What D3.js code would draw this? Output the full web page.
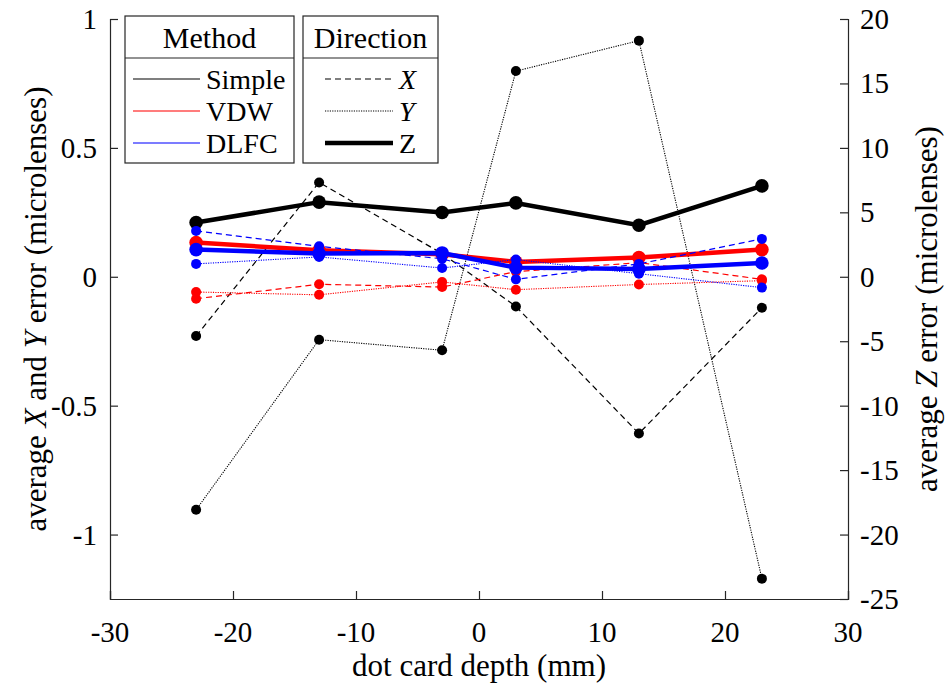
<!DOCTYPE html>
<html>
<head>
<meta charset="utf-8">
<script src="https://cdn.jsdelivr.net/npm/d3@7"></script>
<style>
  body { margin: 0; background: #fff; }
  svg text { font-family: "Liberation Serif", "Times New Roman", serif; fill: #000; }
</style>
</head>
<body>
<div id="chart"></div>
<script>
// data
var depth = [-23, -13, -3, 3, 13, 23];

var simpleX = [-0.23, 0.366, 0.09, -0.115, -0.608, -0.12];
var simpleY = [-0.904, -0.244, -0.285, 0.798, 0.916, -1.171];
var simpleZ = [4.21, 5.79, 4.99, 5.73, 4.0, 7.05];

var vdwX = [-0.085, -0.029, -0.04, 0.02, 0.055, -0.01];
var vdwY = [-0.059, -0.07, -0.02, -0.05, -0.03, -0.015];
var vdwZ = [2.66, 2.06, 1.75, 1.15, 1.49, 2.11];

var dlfcX = [0.178, 0.118, 0.07, -0.01, 0.05, 0.147];
var dlfcY = [0.05, 0.077, 0.034, 0.067, 0.012, -0.042];
var dlfcZ = [2.11, 1.8, 1.85, 0.71, 0.61, 1.07];

var xTicks = [-30, -20, -10, 0, 10, 20, 30];
var leftTicks = [-1, -0.5, 0, 0.5, 1];
var rightTicks = [-25, -20, -15, -10, -5, 0, 5, 10, 15, 20];

var methods = ["Simple", "VDW", "DLFC"];
var methodColors = ["#000000", "#ff0000", "#0000ff"];
var directions = ["X", "Y", "Z"];

// layout
var W = 948, H = 688;
var plot = {left: 110, right: 848, top: 19, bottom: 599};
var axisColor = "#262626";

var x = d3.scaleLinear().domain([-30, 30]).range([plot.left, plot.right]);
var yL = d3.scaleLinear().domain([-1.25, 1]).range([plot.bottom, plot.top]);
var yR = d3.scaleLinear().domain([-25, 20]).range([plot.bottom, plot.top]);

var svg = d3.select("#chart").append("svg")
   .attr("width", W).attr("height", H);

// axes, ticks inward
var fmt = function(d){ return String(d); };
var gx = svg.append("g").attr("transform", "translate(0," + plot.bottom + ")")
   .call(d3.axisTop(x).tickValues(xTicks).tickSize(8).tickFormat(""));
var gl = svg.append("g").attr("transform", "translate(" + plot.left + ",0)")
   .call(d3.axisRight(yL).tickValues(leftTicks).tickSize(8).tickFormat(""));
var gr = svg.append("g").attr("transform", "translate(" + plot.right + ",0)")
   .call(d3.axisLeft(yR).tickValues(rightTicks).tickSize(8).tickFormat(""));
[gx, gl, gr].forEach(function(g){
   g.select(".domain").attr("stroke", axisColor).attr("stroke-width", 1.2);
   g.selectAll(".tick line").attr("stroke", axisColor).attr("stroke-width", 1.2);
});

// tick labels
svg.append("g").selectAll("text").data(xTicks).enter().append("text")
   .attr("x", function(d){ return x(d); }).attr("y", plot.bottom + 43)
   .attr("text-anchor", "middle").style("font-size", "29px").text(fmt);
svg.append("g").selectAll("text").data(leftTicks).enter().append("text")
   .attr("x", plot.left - 13).attr("y", function(d){ return yL(d) + 10; })
   .attr("text-anchor", "end").style("font-size", "29px").text(fmt);
svg.append("g").selectAll("text").data(rightTicks).enter().append("text")
   .attr("x", plot.right + 12).attr("y", function(d){ return yR(d) + 10; })
   .attr("text-anchor", "start").style("font-size", "29px").text(fmt);

// axis labels
svg.append("text")
   .attr("x", (plot.left + plot.right) / 2).attr("y", 676)
   .attr("text-anchor", "middle").style("font-size", "31px")
   .text("dot card depth (mm)");

var ll = svg.append("text")
   .attr("transform", "translate(46," + ((plot.top + plot.bottom) / 2) + ") rotate(-90)")
   .attr("text-anchor", "middle").style("font-size", "31px");
ll.append("tspan").text("average ");
ll.append("tspan").style("font-style", "italic").text("X");
ll.append("tspan").text(" and ");
ll.append("tspan").style("font-style", "italic").text("Y");
ll.append("tspan").text(" error (microlenses)");

var rl = svg.append("text")
   .attr("transform", "translate(937," + ((plot.top + plot.bottom) / 2) + ") rotate(-90)")
   .attr("text-anchor", "middle").style("font-size", "31px");
rl.append("tspan").text("average ");
rl.append("tspan").style("font-style", "italic").text("Z");
rl.append("tspan").text(" error (microlenses)");

// series
var series = [
   {vals: simpleX, dir: "X", color: methodColors[0]},
   {vals: simpleY, dir: "Y", color: methodColors[0]},
   {vals: simpleZ, dir: "Z", color: methodColors[0]},
   {vals: vdwX, dir: "X", color: methodColors[1]},
   {vals: vdwY, dir: "Y", color: methodColors[1]},
   {vals: vdwZ, dir: "Z", color: methodColors[1]},
   {vals: dlfcX, dir: "X", color: methodColors[2]},
   {vals: dlfcY, dir: "Y", color: methodColors[2]},
   {vals: dlfcZ, dir: "Z", color: methodColors[2]}
];
var dash = {X: "6,4", Y: "1.2,1.2", Z: null};
var width = {X: 1.2, Y: 1.1, Z: 4.5};
var radius = {X: 5, Y: 5, Z: 6.8};

var gData = svg.append("g");
series.forEach(function(s){
   var ys = s.dir == "Z" ? yR : yL;
   var pts = depth.map(function(d, i){ return [d, s.vals[i]]; });
   var line = d3.line().x(function(p){ return x(p[0]); }).y(function(p){ return ys(p[1]); });
   gData.append("path").datum(pts)
      .attr("d", line)
      .attr("fill", "none")
      .attr("stroke", s.color)
      .attr("stroke-width", width[s.dir])
      .attr("stroke-dasharray", dash[s.dir]);
   gData.selectAll(null).data(pts).enter().append("circle")
      .attr("cx", function(p){ return x(p[0]); })
      .attr("cy", function(p){ return ys(p[1]); })
      .attr("r", radius[s.dir])
      .attr("fill", s.color);
});

// legends
function legendBox(x0, x1, title, rows) {
   var g = svg.append("g");
   g.append("rect").attr("x", x0).attr("y", 16).attr("width", x1 - x0).attr("height", 147)
      .attr("fill", "#fff").attr("stroke", axisColor).attr("stroke-width", 1.2);
   g.append("line").attr("x1", x0).attr("x2", x1).attr("y1", 58).attr("y2", 58)
      .attr("stroke", axisColor).attr("stroke-width", 1.2);
   g.append("text").attr("x", (x0 + x1) / 2).attr("y", 48)
      .attr("text-anchor", "middle").style("font-size", "30px").text(title);
   rows.forEach(function(r, i){
      var yy = 79 + i * 32;
      g.append("line").attr("x1", r.lx0).attr("x2", r.lx1).attr("y1", yy).attr("y2", yy)
         .attr("stroke", r.color).attr("stroke-width", r.width)
         .attr("stroke-dasharray", r.dash);
      g.append("text").attr("x", r.lx1 + 6).attr("y", yy + 10)
         .style("font-size", "28px").style("font-style", r.italic ? "italic" : null)
         .text(r.label);
   });
}
legendBox(125, 294, "Method", methods.map(function(m, i){
   return {label: m, color: i == 0 ? "#555" : (i == 1 ? "#ff5050" : "#5050ff"),
           width: 1.3, dash: null, lx0: 133, lx1: 200};
}));
legendBox(303, 438, "Direction", directions.map(function(d){
   return {label: d, color: "#000", width: d == "Z" ? 4.5 : 1.1, dash: dash[d],
           italic: d != "Z", lx0: 325, lx1: 393};
}));
</script>
</body>
</html>
